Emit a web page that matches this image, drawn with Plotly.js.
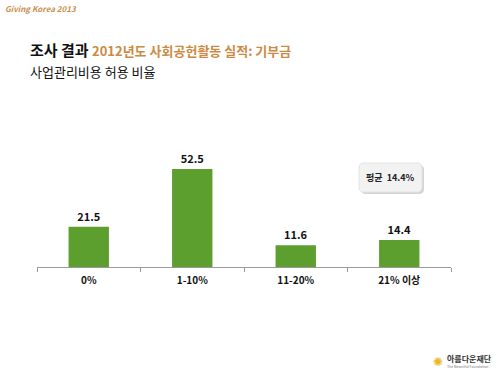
<!DOCTYPE html>
<html><head><meta charset="utf-8">
<script src="https://cdn.plot.ly/plotly-3.0.1.min.js"></script>
<style>body{margin:0;background:#fff}#c{width:500px;height:374px}</style>
</head><body><div id="c"></div>
<script>
const categories = ["0%", "1-10%", "11-20%", "21% 이상"];
const values = [21.5, 52.5, 11.6, 14.4];
const averageLabel = "평균  14.4%";

const F = '"Noto Sans CJK KR", "Noto Sans", sans-serif';
const trace = {
  type: 'bar', x: categories, y: values,
  marker: {color: '#5c9f2e'},
  width: 0.39,
  text: values.map(v => '<b>' + v.toFixed(1) + '</b>'), textposition: 'outside',
  textfont: {family: F, size: 11, color: '#111'},
  cliponaxis: false, hoverinfo: 'none'
};
const layout = {
  width: 500, height: 374,
  margin: {l: 37, r: 49, t: 155, b: 107},
  paper_bgcolor: '#fff', plot_bgcolor: '#fff',
  showlegend: false,
  xaxis: {type: 'category', showline: true, linecolor: '#9a9a9a', linewidth: 1,
    ticks: 'outside', tickson: 'boundaries', ticklen: 4, tickcolor: '#9a9a9a',
    ticklabelstandoff: 4,
    tickvals: categories, ticktext: categories.map(c => '<b>' + c + '</b>'),
    tickfont: {family: F, size: 10, color: '#111'}, showgrid: false, fixedrange: true},
  yaxis: {range: [0, 60], visible: false, showgrid: false, zeroline: false}
};
function px(x, y) { return {x: (x - 37) / 414, y: (374 - 107 - y) / 112}; }
const ann = [];
function addText(t, x, y, size, color, anchor, extra) {
  const p = px(x, y);
  ann.push(Object.assign({xref: 'paper', yref: 'paper', x: p.x, y: p.y, xanchor: anchor || 'left', yanchor: 'middle',
    showarrow: false, text: t, font: {family: F, size: size, color: color}}, extra || {}));
}
addText('<b><i>Giving Korea 2013</i></b>', 3, 8, 8, '#c8914e');
addText('<b>조사 결과</b> <b><span style="color:#cc8a44;font-size:13px">2012년도 사회공헌활동 실적: 기부금</span></b>', 28, 49, 15, '#111');
addText('사업관리비용 허용 비율', 28, 71, 13, '#111');
addText('<b>' + averageLabel + '</b>', 390, 177, 9, '#222', 'center');
addText('<b>아름다운재단</b>', 445, 358, 8, '#333');
addText('The Beautiful Foundation', 445, 366, 3.5, '#777');
addText('✺', 438, 360, 12, '#e8b923', 'center');
layout.annotations = ann;
function roundRect(x0, y0, x1, y1, r) {
  const P = (x, y) => { const p = px(x, y); return p.x + ',' + p.y; };
  return 'M' + P(x0 + r, y0) + ' L' + P(x1 - r, y0) + ' Q' + P(x1, y0) + ' ' + P(x1, y0 + r) +
    ' L' + P(x1, y1 - r) + ' Q' + P(x1, y1) + ' ' + P(x1 - r, y1) +
    ' L' + P(x0 + r, y1) + ' Q' + P(x0, y1) + ' ' + P(x0, y1 - r) +
    ' L' + P(x0, y0 + r) + ' Q' + P(x0, y0) + ' ' + P(x0 + r, y0) + ' Z';
}
layout.shapes = [
  {type: 'path', xref: 'paper', yref: 'paper', path: roundRect(361, 165, 424, 194, 5), fillcolor: '#d4d4d4', line: {width: 0}, layer: 'below'},
  {type: 'path', xref: 'paper', yref: 'paper', path: roundRect(359, 163, 422, 192, 5), fillcolor: '#f2f2f2', line: {color: '#e4e4e4', width: 1}, layer: 'below'}
];
Plotly.newPlot('c', [trace], layout, {displayModeBar: false, staticPlot: true});
</script></body></html>
